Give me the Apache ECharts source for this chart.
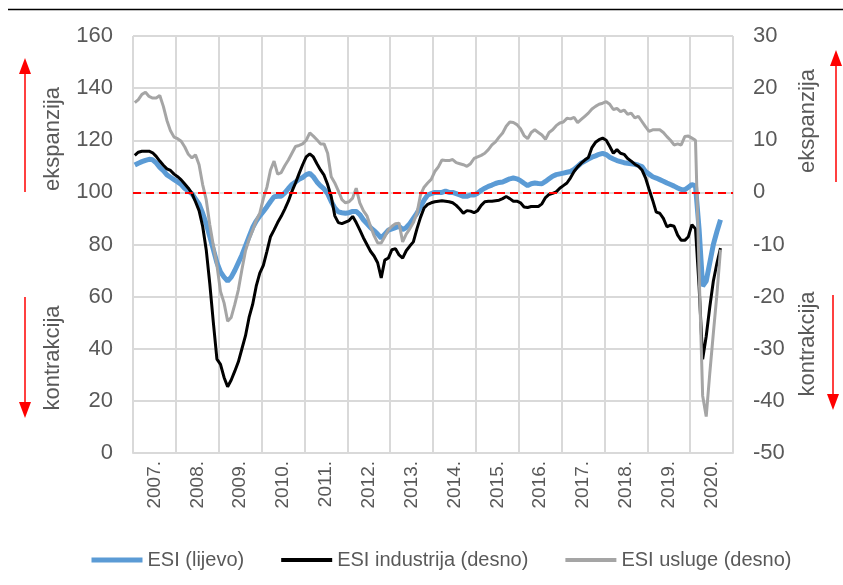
<!DOCTYPE html>
<html>
<head>
<meta charset="utf-8">
<title>ESI</title>
<script src="https://cdn.jsdelivr.net/npm/echarts@6.0.0/dist/echarts.min.js"></script>
<style>
  html, body { margin: 0; padding: 0; background: #fff; }
  #chart { width: 843px; height: 585px; }
</style>
</head>
<body>
<div id="chart"></div>
<script>
// godine na osi x
const years = [2007, 2008, 2009, 2010, 2011, 2012, 2013, 2014, 2015, 2016, 2017, 2018, 2019, 2020]

// ESI (lijevo), mjesecno od 1/2007 do 9/2020
const esi = [
  110.5, 111.2, 111.8, 112.3, 112.7, 112.5, 111.3, 109.6, 108.3, 106.7, 105.8, 104.9,
  104, 103, 101.5, 100.5, 99.5, 97.5, 95.5, 92, 88, 83, 78, 73,
  69.5, 67.5, 66, 67.5, 70, 73, 76, 79.5, 83, 86.5, 89, 91,
  92.7, 94.5, 96.5, 98.3, 98.5, 98.5, 99.8, 101.5, 103, 104, 105, 105.7,
  106.8, 107.3, 106, 104, 102.5, 101.3, 99.5, 96.5, 94, 92.5, 92.2, 92,
  92.2, 92.7, 92.7, 91.5, 89.5, 88, 86.5, 85.3, 84, 82.5, 84, 85.5,
  86, 86.5, 87, 85.7, 86.5, 88, 90, 92, 94.5, 97, 99, 99.5,
  100, 100, 100, 100.5, 100, 100, 99.5, 99, 98.5, 98.5, 99, 99,
  99.7, 100.8, 101.6, 102.3, 102.8, 103.4, 103.8, 104, 104.6, 105.2, 105.5, 105.2,
  104.5, 103.5, 102.6, 103.3, 103.6, 103.4, 103.3, 104.2, 105.2, 106.2, 106.8, 107.1,
  107.4, 107.7, 108, 108.8, 110, 111.2, 112, 112.8, 113.5, 114, 114.6, 115,
  114.5, 113.5, 112.8, 112.2, 111.8, 111.4, 111.2, 111, 110.8, 110.4, 109.9, 108,
  107, 106, 105.5, 104.9, 104.3, 103.6, 103, 102.4, 101.7, 101.1, 101, 102,
  103, 102.5, 86, 64, 66, 73, 80, 85, 89.5
]

// ESI industrija (desno)
const industrija = [
  7.1, 7.7, 7.9, 7.9, 7.9, 7.6, 6.9, 6, 5.2, 4.5, 4.2, 3.5,
  3, 2.4, 1.6, 0.8, -0.2, -1.8, -3.5, -6.5, -11, -17.5, -25, -32,
  -33, -35.5, -37.3, -36, -34.3, -32.5, -30, -27.5, -24, -21.5, -18, -15.5,
  -14, -11.3, -8.5, -7.2, -5.8, -4.6, -3.2, -1.7, 0.2, 1.8, 3.6, 5.3,
  6.8, 7.4, 6.8, 5.5, 4.3, 3.3, 1.5, -0.8, -4.5, -5.8, -6, -5.7,
  -5.4, -4.6, -5.8, -7.2, -8.7, -10, -11.3, -12.2, -13.5, -16.4, -13, -12.6,
  -11, -10.8, -12, -12.6, -11.2, -10.3, -9.5, -7, -4.8, -3, -2.3, -2,
  -1.8, -1.7, -1.6, -1.7, -1.8, -2, -2.5, -3.2, -4, -3.5, -3.6, -3.9,
  -3.5, -2.5, -1.8, -1.7, -1.7, -1.6, -1.5, -1.2, -0.8, -1.2, -1.7, -1.7,
  -2, -2.8, -2.9, -2.7, -2.7, -2.7, -2.2, -1, -0.4, -0.2, 0.1, 0.8,
  1.3, 1.8, 2.8, 4, 4.9, 5.6, 6.2, 6.7, 8.6, 9.6, 10.1, 10.4,
  10, 8.8, 7.5, 8.2, 7.5, 7.3, 6.5, 6, 5.4, 5, 4.3, 2.8,
  0.6, -1.5, -3.8, -4, -5, -6.6, -6.3, -6.5, -8.2, -9.2, -9.2, -8.5,
  -6.2, -7, -18, -32, -27.6, -22, -17, -13.6, -10.7
]

// ESI usluge (desno)
const usluge = [
  17.2, 17.8, 18.8, 19.2, 18.4, 18.1, 18.1, 18.6, 16.5, 13.8, 11.8, 10.6,
  10.3, 9.8, 8.7, 7.3, 6.6, 7.2, 5.3, 1.5, -1.4, -6.2, -10.2, -14,
  -19, -21.2, -24.7, -24, -21.5, -18.7, -14.8, -11.2, -9, -7.3, -5.4, -4,
  -1.2, 1, 4.3, 6, 3.5, 3.8, 5.1, 6.2, 7.5, 8.8, 9, 9.3,
  10, 11.4, 10.8, 10.1, 9.3, 9.3, 7.5, 3, 1.8, 0.3, -1.4, -2,
  -1.8, -1.1, 0.8, -2, -3.5, -4.5, -6.5, -8.3, -9.7, -9.7, -8.5, -7.2,
  -6.5, -6, -5.9, -9.5, -8, -7, -5.8, -4, -0.5, 1, 1.8, 2.5,
  4, 4.9, 6.2, 6.1, 6.1, 6.3, 5.7, 5.5, 5.3, 5, 5.5, 6.5,
  6.8, 7.1, 7.5, 8.2, 9.1, 9.7, 10.6, 11.4, 12.7, 13.5, 13.4, 13,
  12.2, 10.9, 10.3, 11.5, 12, 11.5, 11, 10.2, 11.5, 12, 12.8, 13.3,
  13.5, 14.2, 14.1, 14.4, 13.4, 14, 14.6, 15.2, 16, 16.5, 16.9, 17.1,
  17.4, 16.9, 15.9, 16.1, 15.5, 15.8, 15, 15.2, 14.3, 14.6, 13.6, 12.6,
  11.7, 12, 12, 12, 11.5, 10.7, 10, 9.1, 9.3, 9.1, 10.7, 10.8,
  10.4, 10, -15, -39, -43, -34.7, -27, -19.5, -11
]

// mjesecne kategorije za skrivenu os
const months = []
years.forEach((y) => {
  for (let m = 1; m <= 12; m++) months.push(y + '-' + m)
})

const font = 'Liberation Sans, Arial, sans-serif'
const txt = '#595959'
const grid = '#d9d9d9'
const red = '#ff0000'

function arrow(x, y1, y2, up) {
  // tanka linija + trokut
  const dir = up ? 1 : -1
  return [
    { type: 'line', shape: { x1: x, y1: y1, x2: x, y2: y2 + dir * 14 }, style: { stroke: red, lineWidth: 1.5 } },
    { type: 'polygon', shape: { points: [[x, y2], [x - 6, y2 + dir * 16], [x + 6, y2 + dir * 16]] }, style: { fill: red } }
  ]
}

function label(text, x, y) {
  return {
    type: 'text', x: x, y: y, rotation: Math.PI / 2,
    style: { text: text, fill: txt, font: '22px ' + font, align: 'center', verticalAlign: 'middle' }
  }
}

const chart = echarts.init(document.getElementById('chart'))
chart.setOption({
  animation: false,
  backgroundColor: '#fff',
  textStyle: { fontFamily: font },
  grid: { left: 133, right: 110, top: 36, bottom: 132 },
  legend: {
    left: 84, top: 545,
    itemWidth: 51, itemHeight: 14, itemGap: 35,
    itemStyle: { opacity: 0 },
    textStyle: { color: txt, fontSize: 20, fontFamily: font },
    data: [
      { name: 'ESI (lijevo)', lineStyle: { width: 5 } },
      { name: 'ESI industrija (desno)', lineStyle: { width: 4 } },
      { name: 'ESI usluge (desno)', lineStyle: { width: 4 } }
    ]
  },
  xAxis: [
    {
      type: 'category',
      data: years.map((y) => y + '.'),
      boundaryGap: true,
      axisTick: { show: false },
      axisLine: { lineStyle: { color: grid, width: 2 } },
      splitLine: { show: true, interval: 0, lineStyle: { color: grid, width: 2 } },
      axisLabel: { interval: 0, rotate: 90, margin: 8, color: txt, fontSize: 19, fontFamily: font }
    },
    {
      type: 'category',
      data: months,
      boundaryGap: true,
      show: false
    }
  ],
  yAxis: [
    {
      type: 'value', min: 0, max: 160, interval: 20,
      axisLine: { show: false }, axisTick: { show: false },
      splitLine: { lineStyle: { color: grid, width: 2 } },
      axisLabel: { margin: 20, color: txt, fontSize: 22, fontFamily: font }
    },
    {
      type: 'value', min: -50, max: 30, interval: 10,
      axisLine: { show: false }, axisTick: { show: false },
      splitLine: { show: false },
      axisLabel: { margin: 20, color: txt, fontSize: 22, fontFamily: font }
    }
  ],
  series: [
    {
      name: 'ESI (lijevo)', type: 'line', xAxisIndex: 1, yAxisIndex: 0,
      data: esi, symbol: 'none', color: '#5b9bd5',
      lineStyle: { width: 5, color: '#5b9bd5' },
      markLine: {
        silent: true, symbol: 'none', label: { show: false },
        lineStyle: { color: red, width: 2, type: [8, 5] },
        data: [{ yAxis: 100 }]
      }
    },
    {
      name: 'ESI industrija (desno)', type: 'line', xAxisIndex: 1, yAxisIndex: 1,
      data: industrija, symbol: 'none', color: '#000',
      lineStyle: { width: 3, color: '#000' }
    },
    {
      name: 'ESI usluge (desno)', type: 'line', xAxisIndex: 1, yAxisIndex: 1,
      data: usluge, symbol: 'none', color: '#a5a5a5',
      lineStyle: { width: 3, color: '#a5a5a5' }
    }
  ],
  graphic: [
    { type: 'line', shape: { x1: 8, y1: 9.5, x2: 843, y2: 9.5 }, style: { stroke: '#000', lineWidth: 1.5 } },
    ...arrow(25, 192, 58, true),
    ...arrow(25, 297, 418, false),
    ...arrow(836, 182, 50, true),
    ...arrow(833, 295, 410, false),
    label('ekspanzija', 53, 139),
    label('kontrakcija', 53, 358),
    label('ekspanzija', 808, 121),
    label('kontrakcija', 808, 344)
  ]
})
</script>
</body>
</html>
